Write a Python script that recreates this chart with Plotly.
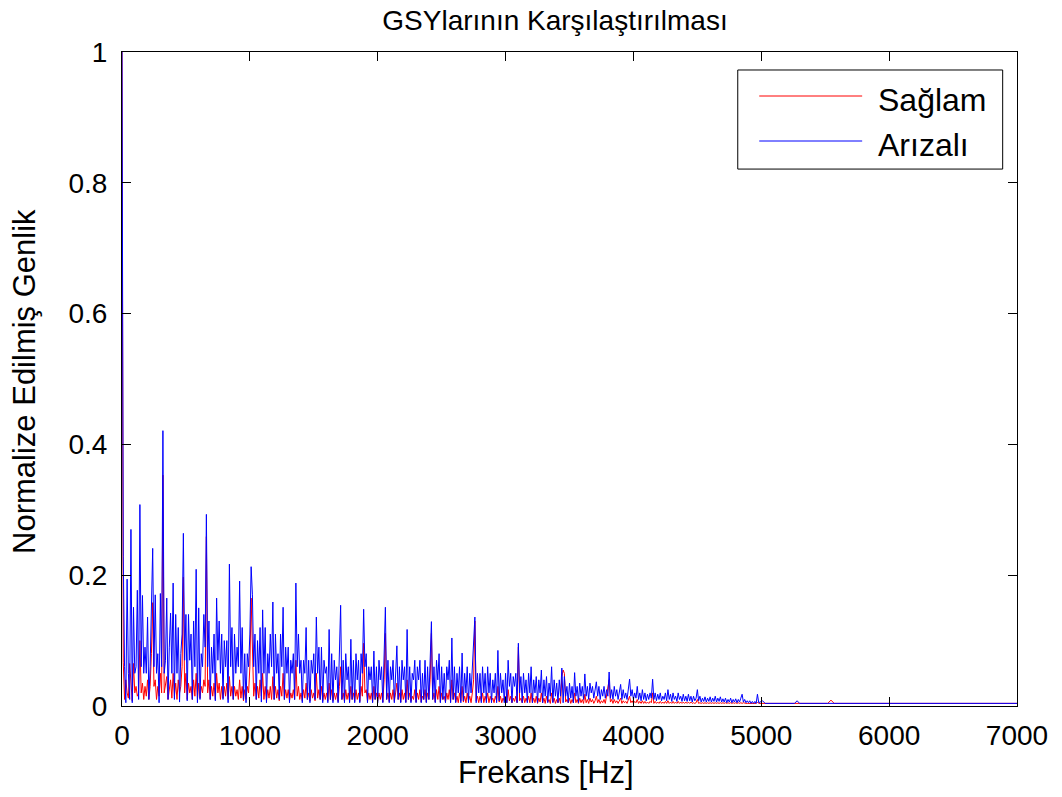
import numpy as np
import plotly.graph_objects as go

# Normalised amplitude spectra on a 10 Hz grid (0 .. 4990 Hz), 20 bins per row
freq_step = 10

arizali = [
    1.0, 0.228, 0.06, 0.005, 0.194, 0.05, 0.01, 0.27, 0.005, 0.151, 0.05, 0.06, 0.177, 0.01, 0.308, 0.06, 0.169, 0.05, 0.09, 0.05,
    0.136, 0.01, 0.06, 0.15, 0.241, 0.06, 0.17, 0.05, 0.08, 0.005, 0.172, 0.06, 0.421, 0.05, 0.07, 0.165, 0.01, 0.09, 0.142, 0.05,
    0.188, 0.01, 0.14, 0.05, 0.12, 0.006, 0.08, 0.11, 0.264, 0.07, 0.14, 0.008, 0.14, 0.07, 0.11, 0.01, 0.13, 0.06, 0.209, 0.005,
    0.15, 0.01, 0.08, 0.06, 0.14, 0.09, 0.293, 0.06, 0.13, 0.01, 0.09, 0.05, 0.11, 0.008, 0.165, 0.07, 0.13, 0.05, 0.11, 0.01,
    0.10, 0.06, 0.10, 0.005, 0.217, 0.06, 0.12, 0.01, 0.11, 0.05, 0.09, 0.06, 0.191, 0.05, 0.12, 0.01, 0.08, 0.005, 0.08, 0.06,
    0.11, 0.213, 0.17, 0.06, 0.11, 0.01, 0.10, 0.05, 0.12, 0.006, 0.147, 0.05, 0.12, 0.005, 0.08, 0.05, 0.11, 0.06, 0.159, 0.01,
    0.11, 0.05, 0.08, 0.01, 0.11, 0.06, 0.151, 0.01, 0.09, 0.05, 0.09, 0.005, 0.07, 0.05, 0.08, 0.01, 0.188, 0.06, 0.11, 0.05,
    0.07, 0.005, 0.07, 0.05, 0.12, 0.01, 0.07, 0.005, 0.07, 0.05, 0.08, 0.01, 0.136, 0.05, 0.09, 0.01, 0.09, 0.005, 0.07, 0.05,
    0.06, 0.005, 0.117, 0.01, 0.08, 0.005, 0.07, 0.04, 0.06, 0.005, 0.10, 0.154, 0.01, 0.07, 0.005, 0.08, 0.04, 0.06, 0.005, 0.102,
    0.01, 0.07, 0.005, 0.08, 0.04, 0.07, 0.005, 0.08, 0.05, 0.148, 0.06, 0.08, 0.005, 0.06, 0.04, 0.06, 0.005, 0.084, 0.01, 0.06,
    0.005, 0.07, 0.04, 0.06, 0.005, 0.09, 0.151, 0.01, 0.07, 0.005, 0.06, 0.04, 0.07, 0.005, 0.06, 0.092, 0.01, 0.06, 0.005, 0.07,
    0.04, 0.06, 0.005, 0.117, 0.01, 0.06, 0.005, 0.05, 0.04, 0.07, 0.005, 0.06, 0.04, 0.07, 0.005, 0.05, 0.01, 0.07, 0.005, 0.06,
    0.01, 0.08, 0.129, 0.01, 0.06, 0.005, 0.07, 0.04, 0.08, 0.005, 0.06, 0.01, 0.05, 0.005, 0.06, 0.04, 0.07, 0.005, 0.104, 0.01,
    0.06, 0.005, 0.05, 0.02, 0.06, 0.005, 0.081, 0.008, 0.05, 0.02, 0.06, 0.005, 0.05, 0.02, 0.06, 0.08, 0.136, 0.005, 0.05, 0.02,
    0.05, 0.005, 0.06, 0.02, 0.05, 0.005, 0.06, 0.02, 0.05, 0.005, 0.04, 0.02, 0.05, 0.005, 0.085, 0.008, 0.05, 0.02, 0.04, 0.005,
    0.05, 0.005, 0.07, 0.03, 0.05, 0.005, 0.045, 0.03, 0.05, 0.005, 0.096, 0.02, 0.045, 0.005, 0.05, 0.02, 0.04, 0.005, 0.05, 0.02,
    0.06, 0.005, 0.04, 0.02, 0.045, 0.005, 0.04, 0.02, 0.055, 0.005, 0.04, 0.015, 0.045, 0.005, 0.035, 0.015, 0.06, 0.005, 0.04, 0.015,
    0.035, 0.005, 0.04, 0.015, 0.058, 0.005, 0.045, 0.015, 0.03, 0.005, 0.035, 0.012, 0.03, 0.005, 0.051, 0.015, 0.03, 0.005, 0.035, 0.015,
    0.03, 0.01, 0.049, 0.015, 0.03, 0.01, 0.035, 0.02, 0.03, 0.012, 0.025, 0.037, 0.015, 0.03, 0.01, 0.025, 0.015, 0.03, 0.012, 0.025,
    0.015, 0.052, 0.012, 0.025, 0.01, 0.03, 0.015, 0.025, 0.01, 0.02, 0.033, 0.01, 0.025, 0.012, 0.02, 0.01, 0.03, 0.041, 0.015, 0.025,
    0.01, 0.02, 0.012, 0.03, 0.01, 0.02, 0.008, 0.025, 0.01, 0.02, 0.008, 0.018, 0.01, 0.02, 0.012, 0.041, 0.01, 0.02, 0.008, 0.018,
    0.01, 0.02, 0.008, 0.015, 0.01, 0.02, 0.008, 0.025, 0.01, 0.018, 0.007, 0.02, 0.01, 0.015, 0.007, 0.02, 0.01, 0.015, 0.007, 0.018,
    0.008, 0.015, 0.007, 0.018, 0.008, 0.015, 0.006, 0.015, 0.008, 0.012, 0.025, 0.008, 0.015, 0.006, 0.012, 0.007, 0.014, 0.006, 0.012, 0.007,
    0.014, 0.006, 0.012, 0.007, 0.015, 0.006, 0.012, 0.007, 0.014, 0.006, 0.011, 0.006, 0.012, 0.005, 0.01, 0.006, 0.012, 0.005, 0.01, 0.006,
    0.011, 0.005, 0.01, 0.006, 0.012, 0.018, 0.006, 0.01, 0.005, 0.008, 0.005, 0.008, 0.004, 0.007, 0.004, 0.007, 0.004, 0.018, 0.005, 0.006,
]

saglam = [
    1.0, 0.066, 0.01, 0.04, 0.02, 0.012, 0.065, 0.03, 0.008, 0.065, 0.02, 0.03, 0.015, 0.02, 0.10, 0.02, 0.035, 0.01, 0.03, 0.015,
    0.04, 0.01, 0.03, 0.08, 0.158, 0.03, 0.04, 0.01, 0.03, 0.015, 0.05, 0.02, 0.353, 0.02, 0.03, 0.045, 0.01, 0.03, 0.04, 0.012,
    0.05, 0.015, 0.035, 0.01, 0.04, 0.02, 0.03, 0.06, 0.197, 0.02, 0.05, 0.01, 0.035, 0.02, 0.03, 0.01, 0.04, 0.015, 0.05, 0.01,
    0.035, 0.012, 0.03, 0.02, 0.04, 0.03, 0.259, 0.02, 0.04, 0.01, 0.03, 0.015, 0.035, 0.01, 0.05, 0.02, 0.035, 0.01, 0.03, 0.012,
    0.03, 0.015, 0.035, 0.01, 0.045, 0.015, 0.03, 0.01, 0.03, 0.015, 0.025, 0.01, 0.04, 0.012, 0.03, 0.008, 0.025, 0.01, 0.03, 0.02,
    0.06, 0.165, 0.10, 0.015, 0.035, 0.01, 0.03, 0.012, 0.04, 0.015, 0.05, 0.01, 0.03, 0.008, 0.025, 0.012, 0.03, 0.01, 0.045, 0.01,
    0.03, 0.012, 0.025, 0.008, 0.03, 0.015, 0.05, 0.01, 0.025, 0.012, 0.025, 0.008, 0.02, 0.012, 0.025, 0.01, 0.07, 0.015, 0.03, 0.01,
    0.02, 0.008, 0.025, 0.012, 0.035, 0.01, 0.02, 0.008, 0.025, 0.012, 0.02, 0.008, 0.05, 0.012, 0.025, 0.01, 0.03, 0.008, 0.02, 0.01,
    0.02, 0.008, 0.035, 0.01, 0.025, 0.008, 0.02, 0.01, 0.02, 0.007, 0.03, 0.06, 0.01, 0.02, 0.007, 0.025, 0.01, 0.02, 0.007, 0.03,
    0.01, 0.02, 0.007, 0.025, 0.01, 0.02, 0.007, 0.03, 0.015, 0.096, 0.02, 0.025, 0.007, 0.02, 0.01, 0.02, 0.006, 0.03, 0.01, 0.02,
    0.008, 0.02, 0.01, 0.02, 0.006, 0.04, 0.111, 0.01, 0.02, 0.007, 0.02, 0.01, 0.025, 0.007, 0.02, 0.035, 0.01, 0.02, 0.006, 0.025,
    0.01, 0.02, 0.006, 0.04, 0.01, 0.02, 0.007, 0.015, 0.01, 0.025, 0.006, 0.02, 0.01, 0.025, 0.006, 0.015, 0.01, 0.025, 0.006, 0.02,
    0.01, 0.04, 0.111, 0.01, 0.02, 0.006, 0.025, 0.01, 0.03, 0.006, 0.02, 0.01, 0.015, 0.006, 0.02, 0.01, 0.025, 0.006, 0.04, 0.01,
    0.02, 0.006, 0.015, 0.005, 0.02, 0.008, 0.03, 0.006, 0.015, 0.005, 0.02, 0.008, 0.015, 0.005, 0.02, 0.04, 0.13, 0.008, 0.015, 0.005,
    0.015, 0.008, 0.02, 0.005, 0.015, 0.008, 0.02, 0.005, 0.015, 0.008, 0.012, 0.005, 0.015, 0.008, 0.03, 0.006, 0.015, 0.005, 0.012, 0.008,
    0.015, 0.005, 0.025, 0.008, 0.015, 0.005, 0.012, 0.007, 0.015, 0.005, 0.09, 0.008, 0.012, 0.005, 0.015, 0.005, 0.012, 0.007, 0.015, 0.005,
    0.02, 0.005, 0.012, 0.005, 0.015, 0.004, 0.012, 0.006, 0.02, 0.005, 0.012, 0.004, 0.015, 0.006, 0.01, 0.004, 0.02, 0.006, 0.012, 0.004,
    0.01, 0.005, 0.012, 0.004, 0.045, 0.055, 0.05, 0.006, 0.01, 0.005, 0.012, 0.004, 0.01, 0.005, 0.02, 0.005, 0.01, 0.004, 0.012, 0.005,
    0.01, 0.004, 0.018, 0.005, 0.01, 0.004, 0.012, 0.006, 0.01, 0.004, 0.008, 0.015, 0.005, 0.01, 0.004, 0.008, 0.005, 0.01, 0.004, 0.015,
    0.025, 0.04, 0.006, 0.01, 0.004, 0.01, 0.005, 0.008, 0.004, 0.008, 0.012, 0.004, 0.008, 0.005, 0.007, 0.004, 0.01, 0.015, 0.005, 0.008,
    0.004, 0.007, 0.005, 0.01, 0.004, 0.007, 0.004, 0.008, 0.004, 0.007, 0.004, 0.006, 0.004, 0.007, 0.005, 0.02, 0.004, 0.007, 0.004, 0.006,
    0.004, 0.007, 0.004, 0.006, 0.004, 0.007, 0.004, 0.008, 0.004, 0.006, 0.004, 0.007, 0.004, 0.006, 0.004, 0.007, 0.004, 0.006, 0.004, 0.006,
    0.004, 0.006, 0.004, 0.006, 0.004, 0.006, 0.004, 0.005, 0.004, 0.005, 0.01, 0.004, 0.005, 0.004, 0.005, 0.004, 0.005, 0.004, 0.005, 0.004,
    0.005, 0.004, 0.005, 0.004, 0.005, 0.004, 0.005, 0.004, 0.005, 0.004, 0.005, 0.004, 0.005, 0.004, 0.005, 0.004, 0.005, 0.004, 0.005, 0.004,
    0.005, 0.004, 0.005, 0.004, 0.005, 0.004, 0.005, 0.004, 0.004, 0.004, 0.004, 0.004, 0.004, 0.004, 0.004, 0.004, 0.004, 0.006, 0.004, 0.004,
]

# Sparse high-frequency tail (5 kHz .. 7 kHz)
tail_hz = [5010, 5030, 5060, 5260, 5280, 5300, 5520, 5545, 5570, 7000]
tail_arizali = [0.008, 0.004, 0.004, 0.004, 0.008, 0.004, 0.004, 0.004, 0.004, 0.004]
tail_saglam = [0.004, 0.004, 0.004, 0.004, 0.004, 0.004, 0.004, 0.009, 0.004, 0.004]

x_ticks = [0, 1000, 2000, 3000, 4000, 5000, 6000, 7000]
y_ticks = [0, 0.2, 0.4, 0.6, 0.8, 1]
y_ticklabels = ["0", "0.2", "0.4", "0.6", "0.8", "1"]

freq = np.concatenate([np.arange(len(arizali)) * freq_step, tail_hz])
amp_arizali = np.concatenate([arizali, tail_arizali])
amp_saglam = np.concatenate([saglam, tail_saglam])

FONT = "Liberation Sans, Arial, sans-serif"
RED = "#ff0000"
BLUE = "#0000ff"

fig = go.Figure()
fig.add_trace(go.Scatter(x=freq, y=amp_saglam, mode="lines", name="Sağlam",
                         line=dict(color=RED, width=1), showlegend=False))
fig.add_trace(go.Scatter(x=freq, y=amp_arizali, mode="lines", name="Arızalı",
                         line=dict(color=BLUE, width=1), showlegend=False))

axis_common = dict(
    showline=True, linecolor="black", linewidth=1, mirror="allticks",
    ticks="inside", ticklen=9, tickwidth=1, tickcolor="black",
    showgrid=False, zeroline=False,
    tickfont=dict(family=FONT, size=28, color="black"),
)

fig.update_xaxes(range=[0, 7000], tickvals=x_ticks, ticklabelstandoff=4, **axis_common)
fig.update_yaxes(range=[0, 1], tickvals=y_ticks, ticktext=y_ticklabels, ticklabelstandoff=8, **axis_common)

# Legend box drawn in paper coordinates
legend_box = dict(x0=0.688, x1=0.984, y0=0.821, y1=0.9725)
legend_rows = [("Sağlam", RED, 0.9327), ("Arızalı", BLUE, 0.8639)]
shapes = [dict(type="rect", xref="paper", yref="paper", line=dict(color="black", width=1),
               fillcolor="white", layer="above", **legend_box)]
annotations = []
for label, color, yy in legend_rows:
    shapes.append(dict(type="line", xref="paper", yref="paper", x0=0.712, x1=0.827, y0=yy, y1=yy,
                       line=dict(color=color, width=1), layer="above"))
    annotations.append(dict(xref="paper", yref="paper", x=0.8425, y=yy - 0.006, text=label, showarrow=False,
                            xanchor="left", yanchor="middle",
                            font=dict(family=FONT, size=32, color="black")))

# Axis titles
annotations.append(dict(xref="paper", yref="paper", x=0.4737, y=-0.1024, text="Frekans [Hz]",
                        showarrow=False, xanchor="center", yanchor="middle",
                        font=dict(family=FONT, size=31, color="black")))
annotations.append(dict(xref="paper", yref="paper", x=-0.1084, y=0.497, text="Normalize Edilmiş Genlik",
                        showarrow=False, xanchor="center", yanchor="middle", textangle=-90,
                        font=dict(family=FONT, size=31, color="black")))

fig.update_layout(
    width=1062, height=797,
    paper_bgcolor="white", plot_bgcolor="white",
    margin=dict(l=122, r=45, t=52, b=91),
    title=dict(text="GSYlarının Karşılaştırılması", x=0.5226, xanchor="center", y=0.975, yanchor="middle",
               font=dict(family=FONT, size=28, color="black")),
    shapes=shapes, annotations=annotations,
)

fig.write_html("out.html")
